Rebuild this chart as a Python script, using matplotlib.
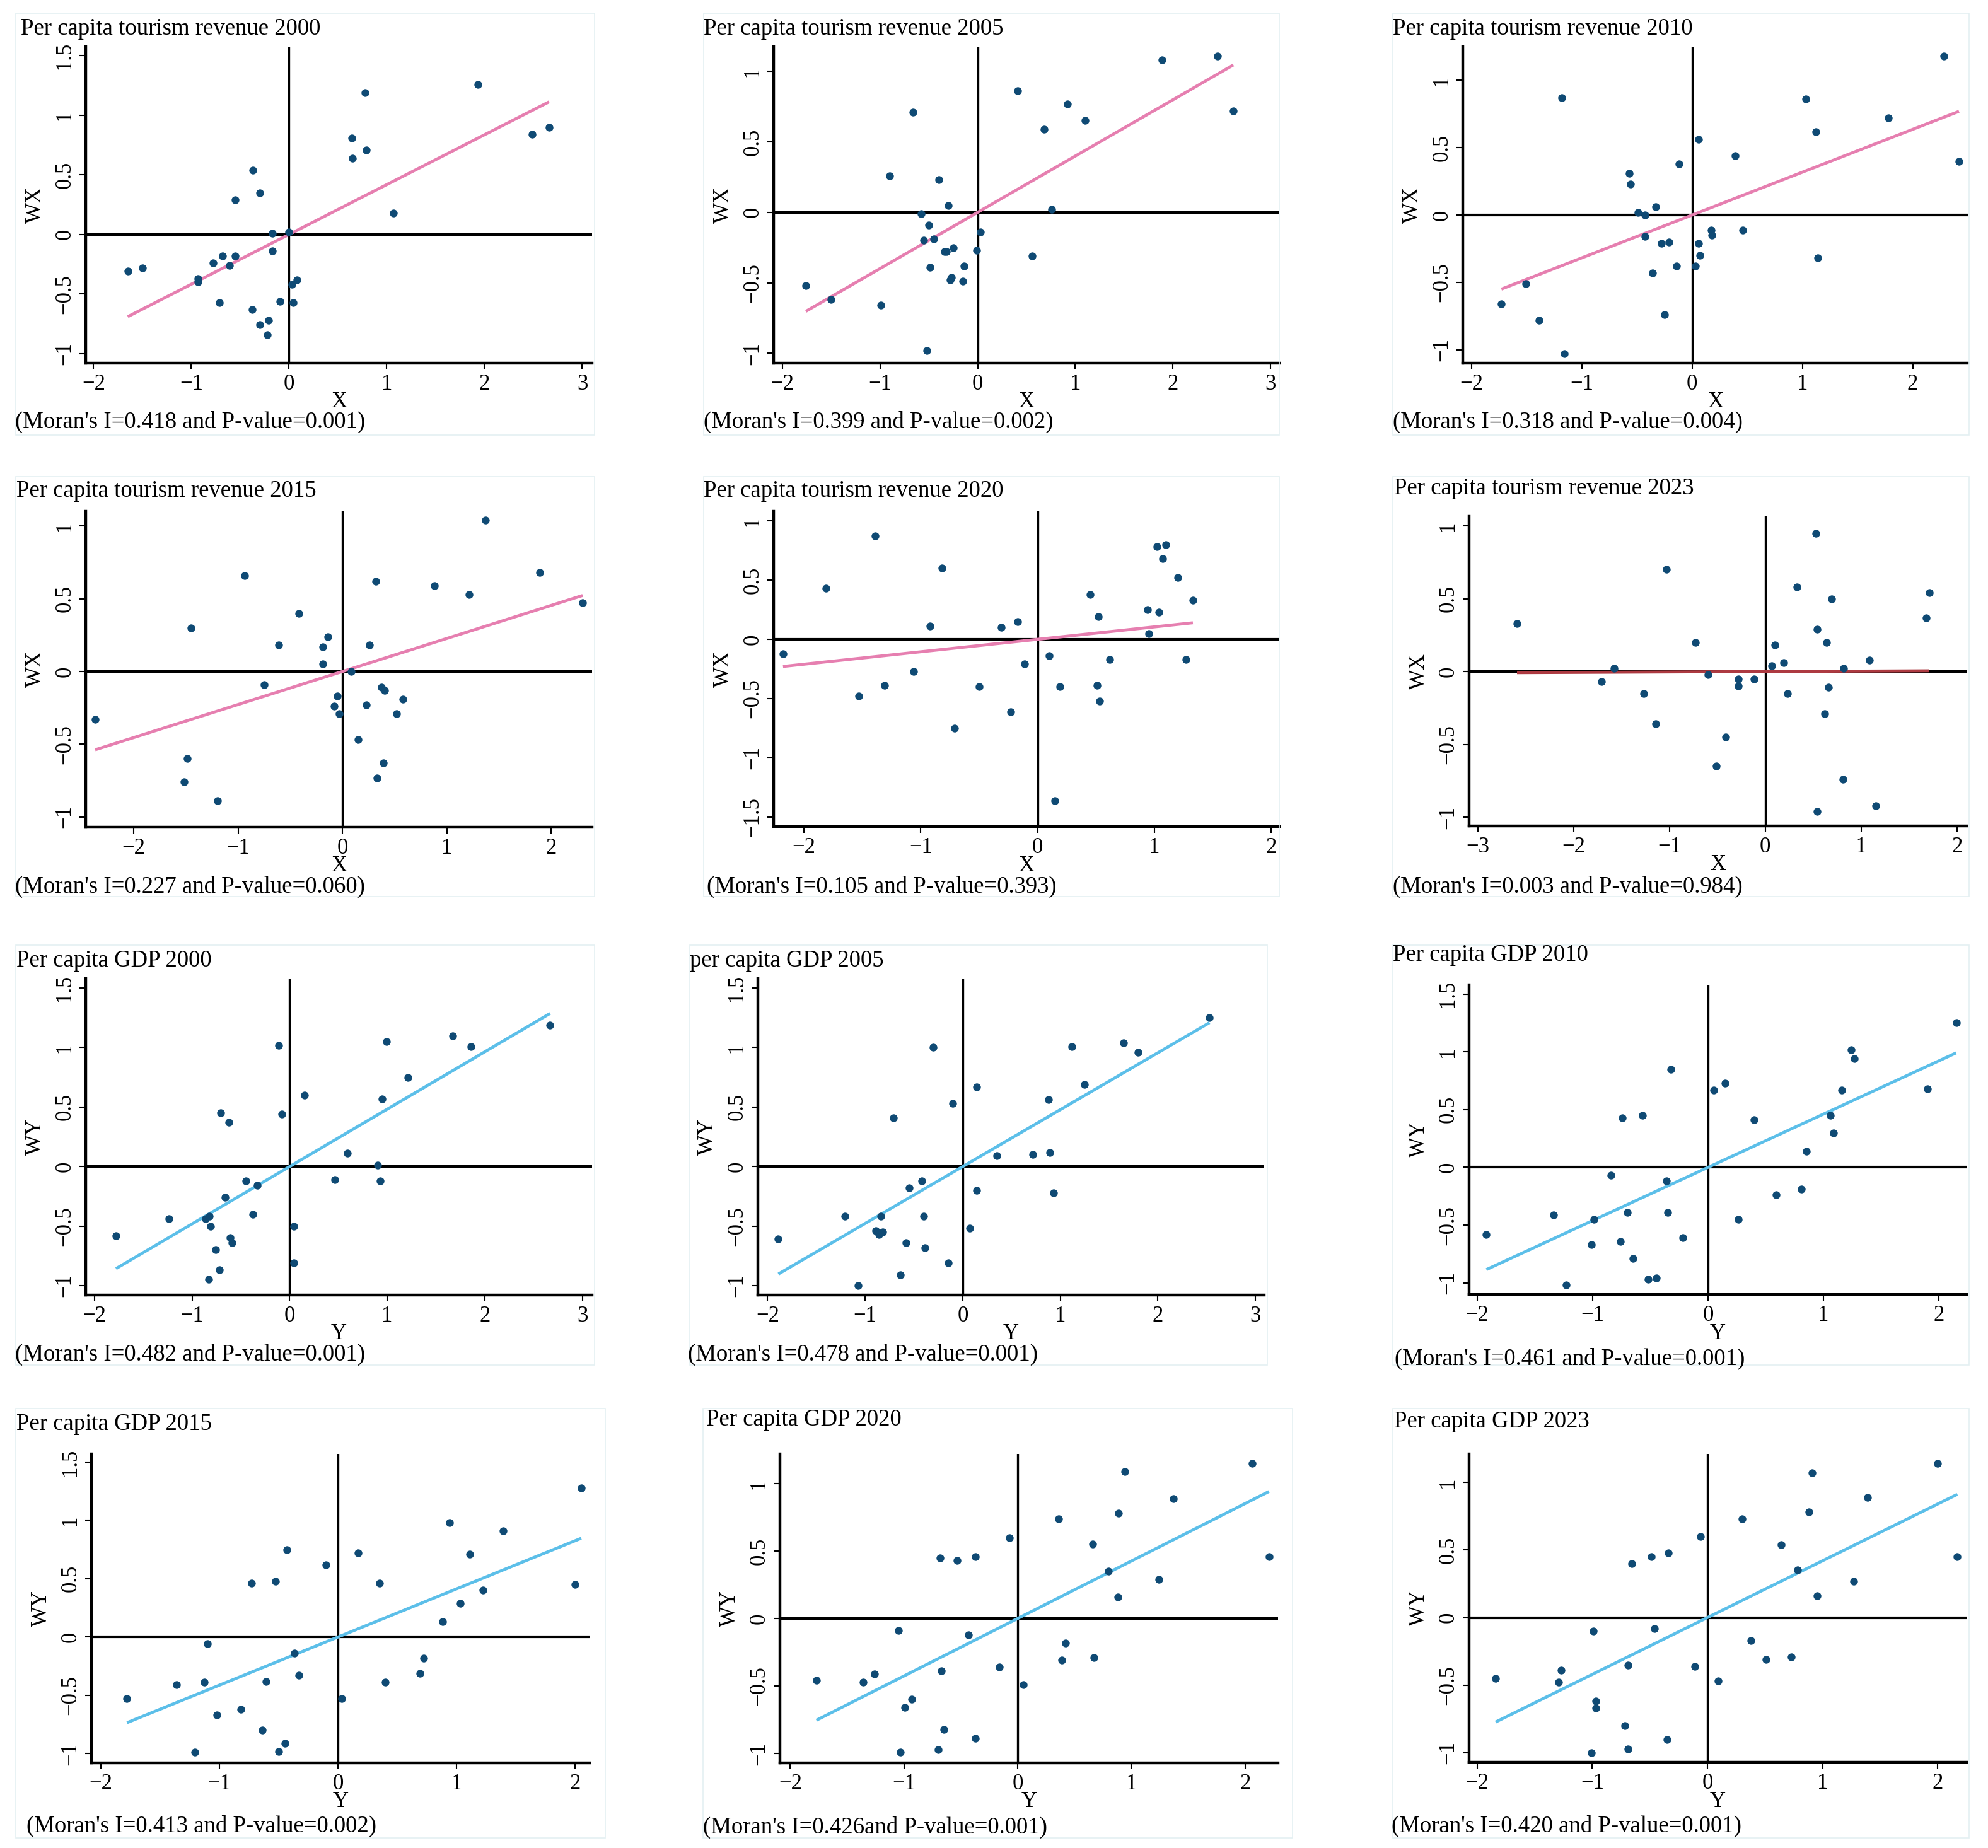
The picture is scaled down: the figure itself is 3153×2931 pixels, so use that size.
import matplotlib
matplotlib.use('Agg')
import matplotlib.pyplot as plt
from matplotlib.patches import Rectangle
from matplotlib.ticker import FuncFormatter, MultipleLocator
import numpy as np

plt.rcParams['font.family'] = ['Liberation Serif', 'DejaVu Serif']

#~~~~~~~~~~~~~~
# DATA
#~~~~~~~~~~~~~~

tr2000_x = [-1.65, -1.50, -0.93, -0.93, -0.78, -0.68, -0.55, -0.61, -0.71, -0.38, -0.30, -0.21, -0.22, -0.09, 0.04, 0.03,
            0.08, -0.17, -0.17, 0.00, -0.55, -0.30, -0.37, 0.64, 0.65, 0.79, 0.78, 1.07, 1.93, 2.49, 2.66]
tr2000_wx = [-0.31, -0.28, -0.37, -0.40, -0.24, -0.18, -0.18, -0.26, -0.57, -0.63, -0.76, -0.72, -0.84, -0.56, -0.57, -0.42,
             -0.38, -0.14, 0.01, 0.02, 0.29, 0.35, 0.54, 0.81, 0.64, 0.71, 1.19, 0.18, 1.26, 0.84, 0.90]

tr2005_x = [-1.76, -1.50, -0.99, -0.90, -0.66, -0.58, -0.50, -0.55, -0.45, -0.40, -0.30, -0.34, -0.32, -0.25, -0.49, -0.27,
            -0.28, -0.14, -0.15, -0.52, -0.01, 0.03, 0.41, 0.56, 0.68, 0.76, 0.92, 1.10, 1.89, 2.46, 2.62]
tr2005_wx = [-0.52, -0.62, -0.66, 0.26, 0.71, -0.01, -0.09, -0.20, -0.19, 0.23, 0.05, -0.28, -0.28, -0.25, -0.39, -0.46,
             -0.48, -0.38, -0.49, -0.98, -0.27, -0.14, 0.86, -0.31, 0.59, 0.02, 0.77, 0.65, 1.08, 1.11, 0.72]

tr2010_x = [-1.73, -1.51, -1.39, -1.18, -1.16, -0.57, -0.56, -0.49, -0.43, -0.43, -0.33, -0.36, -0.28, -0.21, -0.25, -0.14,
            -0.12, 0.06, 0.03, 0.06, 0.07, 0.17, 0.18, 0.39, 0.46, 1.03, 1.12, 1.14, 1.78, 2.28, 2.42]
tr2010_wx = [-0.66, -0.51, -0.78, 0.87, -1.03, 0.31, 0.23, 0.02, 0.00, -0.16, 0.06, -0.43, -0.21, -0.20, -0.74, -0.38,
             0.38, 0.56, -0.38, -0.21, -0.30, -0.11, -0.15, 0.44, -0.11, 0.86, 0.62, -0.32, 0.72, 1.18, 0.40]

tr2015_x = [-2.37, -1.52, -1.49, -1.45, -1.20, -0.94, -0.75, -0.61, -0.42, -0.19, -0.19, -0.14, -0.05, -0.08, -0.03, 0.08,
            0.15, 0.23, 0.26, 0.32, 0.33, 0.37, 0.40, 0.39, 0.52, 0.58, 0.88, 1.21, 1.37, 1.89, 2.30]
tr2015_wx = [-0.33, -0.76, -0.60, 0.30, -0.89, 0.66, -0.09, 0.18, 0.40, 0.05, 0.17, 0.24, -0.17, -0.24, -0.29, 0.00,
             -0.47, -0.23, 0.18, 0.62, -0.73, -0.11, -0.13, -0.63, -0.29, -0.19, 0.59, 0.53, 1.04, 0.68, 0.47]

tr2020_x = [-2.18, -1.81, -1.53, -1.39, -1.31, -1.06, -0.92, -0.82, -0.71, -0.50, -0.31, -0.23, -0.17, -0.11, 0.10, 0.15,
            0.19, 0.45, 0.51, 0.52, 0.53, 0.62, 0.94, 0.95, 1.04, 1.02, 1.07, 1.10, 1.20, 1.27, 1.33]
tr2020_wx = [-0.12, 0.43, -0.48, 0.87, -0.39, -0.27, 0.11, 0.60, -0.75, -0.40, 0.10, -0.61, 0.15, -0.21, -0.14, -1.36,
             -0.40, 0.38, -0.39, 0.19, -0.52, -0.17, 0.25, 0.05, 0.23, 0.78, 0.68, 0.80, 0.52, -0.17, 0.33]

tr2023_x = [-2.59, -1.71, -1.58, -1.27, -1.14, -1.03, -0.73, -0.60, -0.51, -0.41, -0.28, -0.28, -0.12, 0.07, 0.10, 0.19,
            0.23, 0.33, 0.53, 0.54, 0.54, 0.64, 0.62, 0.66, 0.69, 0.81, 0.82, 1.09, 1.15, 1.68, 1.71]
tr2023_wx = [0.33, -0.07, 0.02, -0.15, -0.36, 0.70, 0.20, -0.02, -0.65, -0.45, -0.05, -0.10, -0.05, 0.04, 0.18, 0.06,
             -0.15, 0.58, 0.95, 0.29, -0.96, 0.20, -0.29, -0.11, 0.50, -0.74, 0.02, 0.08, -0.92, 0.37, 0.54]

gdp2000_y = [-1.78, -1.24, -0.86, -0.82, -0.81, -0.76, -0.72, -0.83, -0.71, -0.62, -0.66, -0.61, -0.59, -0.45, -0.38, -0.33,
             -0.11, -0.08, 0.04, 0.04, 0.15, 0.46, 0.59, 0.90, 0.93, 0.95, 0.99, 1.21, 1.67, 1.86, 2.67]
gdp2000_wy = [-0.58, -0.44, -0.44, -0.42, -0.50, -0.70, -0.87, -0.95, 0.45, 0.37, -0.26, -0.60, -0.64, -0.12, -0.40, -0.16,
              1.02, 0.44, -0.50, -0.81, 0.60, -0.11, 0.11, 0.01, -0.12, 0.57, 1.05, 0.75, 1.10, 1.01, 1.19]

gdp2005_y = [-1.89, -1.21, -1.07, -0.89, -0.86, -0.82, -0.84, -0.71, -0.64, -0.58, -0.55, -0.42, -0.40, -0.39, -0.30,
             -0.15, -0.10, 0.07, 0.14, 0.14, 0.35, 0.72, 0.88, 0.89, 0.93, 1.12, 1.25, 1.65, 1.80, 2.53]
gdp2005_wy = [-0.61, -0.42, -1.00, -0.54, -0.57, -0.55, -0.42, 0.41, -0.91, -0.64, -0.18, -0.12, -0.42, -0.68, 1.00,
              -0.81, 0.53, -0.52, -0.20, 0.67, 0.09, 0.10, 0.56, 0.12, -0.22, 1.01, 0.69, 1.04, 0.96, 1.25]

gdp2010_y = [-1.92, -1.34, -1.23, -1.01, -0.99, -0.84, -0.76, -0.74, -0.70, -0.65, -0.57, -0.52, -0.45, -0.36, -0.35, -0.32,
             -0.22, 0.05, 0.15, 0.26, 0.40, 0.59, 0.81, 0.85, 1.06, 1.09, 1.16, 1.24, 1.27, 1.90, 2.15]
gdp2010_wy = [-0.58, -0.41, -1.02, -0.67, -0.45, -0.07, -0.64, 0.43, -0.39, -0.79, 0.45, -0.97, -0.96, -0.12, -0.39, 0.85,
              -0.61, 0.67, 0.73, -0.45, 0.41, -0.24, -0.19, 0.14, 0.45, 0.30, 0.67, 1.02, 0.94, 0.68, 1.25]

gdp2015_y = [-1.78, -1.36, -1.21, -1.13, -1.10, -1.02, -0.82, -0.73, -0.64, -0.61, -0.53, -0.50, -0.45, -0.43, -0.37, -0.33,
             -0.10, 0.03, 0.17, 0.35, 0.40, 0.69, 0.72, 0.88, 0.94, 1.03, 1.11, 1.22, 1.39, 2.00, 2.05]
gdp2015_wy = [-0.53, -0.41, -0.99, -0.39, -0.06, -0.67, -0.62, 0.46, -0.80, -0.38, 0.48, -0.98, -0.91, 0.75, -0.14, -0.33,
              0.62, -0.53, 0.72, 0.46, -0.39, -0.31, -0.18, 0.13, 0.98, 0.29, 0.71, 0.40, 0.91, 0.45, 1.28]

gdp2020_y = [-1.77, -1.36, -1.26, -1.05, -1.03, -0.99, -0.93, -0.70, -0.68, -0.67, -0.65, -0.53, -0.43, -0.37, -0.37, -0.16,
             -0.07, 0.05, 0.36, 0.39, 0.42, 0.66, 0.67, 0.80, 0.88, 0.89, 0.94, 1.24, 1.37, 2.06, 2.21]
gdp2020_wy = [-0.46, -0.47, -0.41, -0.09, -0.99, -0.66, -0.60, -0.97, 0.45, -0.39, -0.82, 0.43, -0.12, -0.89, 0.46, -0.36,
              0.60, -0.49, 0.74, -0.31, -0.18, 0.55, -0.29, 0.35, 0.16, 0.78, 1.09, 0.29, 0.89, 1.15, 0.46]

gdp2023_y = [-1.84, -1.29, -1.27, -1.01, -0.99, -0.97, -0.97, -0.72, -0.69, -0.69, -0.66, -0.49, -0.46, -0.35, -0.34, -0.11,
             -0.06, 0.09, 0.30, 0.38, 0.51, 0.64, 0.73, 0.78, 0.88, 0.91, 0.95, 1.27, 1.39, 2.00, 2.17]
gdp2023_wy = [-0.45, -0.48, -0.39, -1.00, -0.10, -0.62, -0.67, -0.80, -0.35, -0.97, 0.40, 0.45, -0.08, -0.90, 0.48, -0.36,
              0.60, -0.47, 0.73, -0.17, -0.31, 0.54, -0.29, 0.35, 0.78, 1.07, 0.16, 0.27, 0.89, 1.14, 0.45]

titles = ['Per capita tourism revenue 2000', 'Per capita tourism revenue 2005', 'Per capita tourism revenue 2010',
          'Per capita tourism revenue 2015', 'Per capita tourism revenue 2020', 'Per capita tourism revenue 2023',
          'Per capita GDP 2000', 'per capita GDP 2005', 'Per capita GDP 2010',
          'Per capita GDP 2015', 'Per capita GDP 2020', 'Per capita GDP 2023']
moran_i = [0.418, 0.399, 0.318, 0.227, 0.105, 0.003, 0.482, 0.478, 0.461, 0.413, 0.426, 0.420]
moran_text = ["(Moran's I=0.418 and P-value=0.001)", "(Moran's I=0.399 and P-value=0.002)",
              "(Moran's I=0.318 and P-value=0.004)", "(Moran's I=0.227 and P-value=0.060)",
              "(Moran's I=0.105 and P-value=0.393)", "(Moran's I=0.003 and P-value=0.984)",
              "(Moran's I=0.482 and P-value=0.001)", "(Moran's I=0.478 and P-value=0.001)",
              "(Moran's I=0.461 and P-value=0.001)", "(Moran's I=0.413 and P-value=0.002)",
              "(Moran's I=0.426and P-value=0.001)", "(Moran's I=0.420 and P-value=0.001)"]
xs_all = [tr2000_x, tr2005_x, tr2010_x, tr2015_x, tr2020_x, tr2023_x,
          gdp2000_y, gdp2005_y, gdp2010_y, gdp2015_y, gdp2020_y, gdp2023_y]
ys_all = [tr2000_wx, tr2005_wx, tr2010_wx, tr2015_wx, tr2020_wx, tr2023_wx,
          gdp2000_wy, gdp2005_wy, gdp2010_wy, gdp2015_wy, gdp2020_wy, gdp2023_wy]

#~~~~~~~~~~~~~~
# LAYOUT (pixels)
#~~~~~~~~~~~~~~
W, H = 3153, 2931

# left, right, top, bottom of plot region
rects = [(136, 939, 74, 576), (1227, 2029, 74, 576), (2320, 3121, 74, 576),
         (136, 939, 811, 1312), (1227, 2029, 811, 1311), (2330, 3119, 819, 1310),
         (136, 939, 1552, 2054), (1202, 2005, 1552, 2054), (2330, 3119, 1562, 2053),
         (145, 935, 2306, 2796), (1237, 2027, 2306, 2796), (2330, 3119, 2306, 2795)]
title_pos = [(33, 46), (1116, 46), (2209, 46), (26, 779), (1116, 779), (2211, 775),
             (26, 1524), (1094, 1524), (2209, 1515), (26, 2259), (1120, 2252), (2211, 2255)]
moran_pos = [(24, 669), (1116, 669), (2209, 669), (24, 1406), (1121, 1406), (2209, 1406),
             (24, 2148), (1091, 2148), (2212, 2155), (42, 2896), (1115, 2898), (2207, 2896)]
frames = [(25, 943, 21, 690), (1116, 2029, 21, 690), (2209, 3123, 21, 690),
          (25, 943, 756, 1422), (1116, 2029, 756, 1422), (2209, 3123, 756, 1422),
          (25, 943, 1499, 2165), (1094, 2010, 1499, 2165), (2209, 3123, 1499, 2165),
          (25, 960, 2234, 2915), (1115, 2050, 2234, 2915), (2209, 3123, 2234, 2915)]
xlims = [(-2.08, 3.10), (-2.09, 3.09), (-2.08, 2.50), (-2.46, 2.39), (-2.26, 2.07), (-3.09, 2.10),
         (-2.09, 3.10), (-2.10, 3.09), (-2.07, 2.24), (-2.08, 2.12), (-2.09, 2.29), (-2.07, 2.25)]
ylims = [(-1.08, 1.575), (-1.07, 1.175), (-1.10, 1.25), (-1.07, 1.10), (-1.58, 1.08), (-1.06, 1.065),
         (-1.08, 1.58), (-1.08, 1.58), (-1.10, 1.58), (-1.08, 1.57), (-1.07, 1.22), (-1.07, 1.21)]

pink = '#e67fb0'
blue = '#5cbfe9'
darkred = '#ad3a41'
dot = '#0f4a74'
line_cols = [pink] * 5 + [darkred] + [blue] * 6

fmt = FuncFormatter(lambda v, p: ('%g' % round(v, 2)).replace('-', '\u2212'))

#~~~~~~~~~~
# PLOTTING
#~~~~~~~~~~
fig = plt.figure(figsize=(W / 100, H / 100), dpi=100)

for k in range(12):
    L, R, T, B = frames[k]
    fig.patches.append(Rectangle((L / W, 1 - B / H), (R - L) / W, (B - T) / H, transform=fig.transFigure,
                                 fill=False, edgecolor='#e4f0f2', lw=1.2))

    L, R, T, B = rects[k]
    ax = fig.add_axes([L / W, 1 - B / H, (R - L) / W, (B - T) / H])
    x = np.array(xs_all[k])
    y = np.array(ys_all[k])

    ax.axhline(0, color='black', lw=3.0, zorder=1)
    ax.axvline(0, color='black', lw=2.4, zorder=1)
    xl = np.array([x.min(), x.max()])
    ax.plot(xl, moran_i[k] * xl, color=line_cols[k], lw=3.4, zorder=2, solid_capstyle='butt')
    ax.scatter(x, y, s=80, color=dot, linewidths=0, zorder=3)

    ax.set_xlim(*xlims[k])
    ax.set_ylim(*ylims[k])
    ax.xaxis.set_major_locator(MultipleLocator(1))
    ax.yaxis.set_major_locator(MultipleLocator(0.5))
    ax.xaxis.set_major_formatter(fmt)
    ax.yaxis.set_major_formatter(fmt)

    for s in ['top', 'right']:
        ax.spines[s].set_visible(False)
    for s in ['left', 'bottom']:
        ax.spines[s].set_linewidth(3.2)
    ax.tick_params(length=7, width=1.5, labelsize=25, pad=5)
    ax.tick_params(axis='y', labelrotation=90)
    for lab in ax.get_yticklabels():
        lab.set_va('center')

    if k < 6:
        ax.set_xlabel('X', fontsize=25, labelpad=-3)
        ax.set_ylabel('WX', fontsize=25, labelpad=10)
    else:
        ax.set_xlabel('Y', fontsize=25, labelpad=-3)
        ax.set_ylabel('WY', fontsize=25, labelpad=10)

    tx, ty = title_pos[k]
    fig.text(tx / W, 1 - ty / H, titles[k], ha='left', va='center', fontsize=26.5)
    mx, my = moran_pos[k]
    fig.text(mx / W, 1 - my / H, moran_text[k], ha='left', va='center', fontsize=26.5)

fig.savefig('out.png', dpi=100, facecolor='white')
